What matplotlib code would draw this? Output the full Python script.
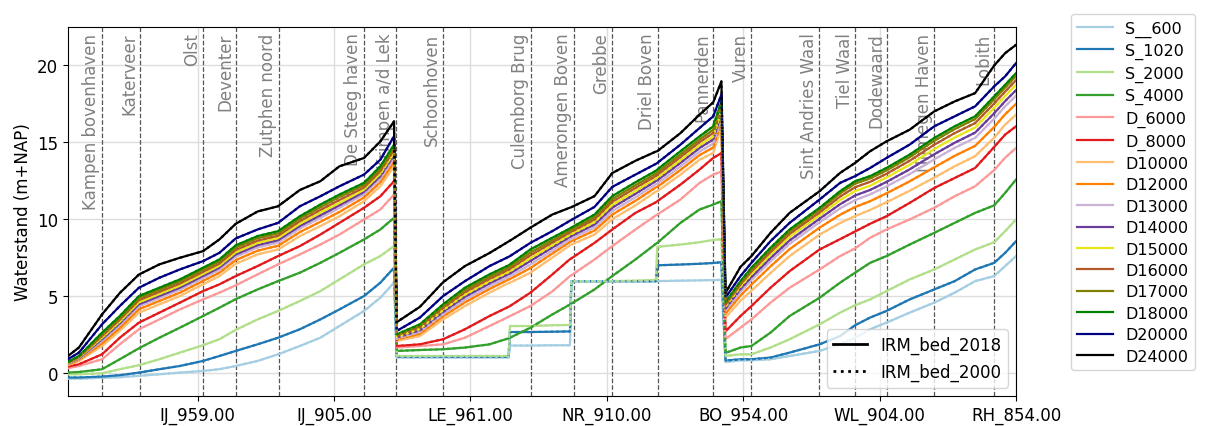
import matplotlib
matplotlib.use('Agg')
import matplotlib.pyplot as plt
from matplotlib.lines import Line2D

# x positions (point index along the river branches)
x_ij = [5, 13, 30, 43, 57, 72, 87, 104, 116, 128, 144, 159, 175, 190, 204, 222, 234, 244]
x_lek = [246, 263, 280, 296, 314, 328, 329, 344, 360, 373, 374, 391, 404, 421, 436, 437, 454, 468, 478, 484]
x_waal = [487, 498, 506, 520, 534, 556, 571, 582, 593, 605, 622, 640, 655, 670, 684, 692, 700]

tick_pos = [100, 200, 300, 400, 500, 600, 700]
tick_labels = ['IJ_959.00', 'IJ_905.00', 'LE_961.00', 'NR_910.00', 'BO_954.00', 'WL_904.00', 'RH_854.00']

stations = ['Kampen bovenhaven', 'Katerveer', 'Olst', 'Deventer', 'Zutphen noord', 'De Steeg haven',
            'Krimpen a/d Lek', 'Schoonhoven', 'Culemborg Brug', 'Amerongen Boven', 'Grebbe', 'Driel Boven',
            'Pannerden', 'Vuren', 'Sint Andries Waal', 'Tiel Waal', 'Dodewaard', 'Nijmegen Haven', 'Lobith']
station_pos = [29.6, 57.5, 103.7, 127.9, 159.4, 221.8, 245.2, 279.7, 344.3, 375.8, 403.7, 437.4,
               477.8, 505.6, 555.5, 581.9, 605.4, 639.9, 684.0]

# waterstand per afvoerscenario (IJ | LE/NR/BO | WL/RH)
S__600 = [-0.37, -0.37, -0.32, -0.28, -0.19, -0.09, 0.02, 0.13, 0.24, 0.45, 0.78, 1.21, 1.75, 2.29, 3.05, 4.03, 4.89, 5.87,
          1.0, 1.0, 1.0, 1.0, 1.0, 1.0, 1.78, 1.78, 1.8, 1.8, 5.95, 5.95, 5.95, 5.95, 5.95, 5.97, 6.0, 6.02, 6.04, 6.05,
          0.7, 0.82, 0.82, 0.89, 1.1, 1.43, 1.86, 2.29, 2.84, 3.27, 3.92, 4.57, 5.22, 5.97, 6.3, 6.95, 7.6]
S_1020 = [-0.3, -0.3, -0.24, -0.15, 0.02, 0.24, 0.45, 0.78, 1.1, 1.43, 1.86, 2.29, 2.84, 3.48, 4.13, 5.0, 5.87, 6.84,
          1.05, 1.05, 1.05, 1.05, 1.05, 1.05, 2.66, 2.66, 2.68, 2.7, 5.97, 5.97, 5.97, 5.97, 5.97, 7.0, 7.05, 7.1, 7.15, 7.2,
          0.8, 0.89, 0.89, 1.0, 1.32, 1.86, 2.4, 3.1, 3.6, 4.03, 4.78, 5.43, 5.97, 6.73, 7.16, 7.81, 8.57]
S_2000 = [-0.09, -0.09, -0.02, 0.24, 0.5, 0.89, 1.32, 1.8, 2.19, 2.8, 3.48, 4.03, 4.68, 5.32, 6.08, 7.06, 7.6, 8.25,
          1.1, 1.1, 1.1, 1.1, 1.1, 1.1, 3.05, 3.05, 3.1, 3.12, 5.97, 5.97, 5.97, 6.0, 6.05, 8.2, 8.35, 8.5, 8.65, 8.7,
          1.1, 1.21, 1.21, 1.65, 2.19, 3.16, 3.92, 4.4, 4.78, 5.32, 6.08, 6.73, 7.38, 8.03, 8.5, 9.22, 9.98]
S_4000 = [0.02, 0.06, 0.24, 0.89, 1.6, 2.29, 2.94, 3.7, 4.24, 4.8, 5.43, 5.97, 6.52, 7.16, 7.81, 8.68, 9.33, 10.09,
          1.43, 1.49, 1.54, 1.65, 1.86, 2.25, 2.29, 2.94, 3.8, 4.45, 4.5, 5.43, 6.3, 7.38, 8.4, 8.46, 9.76, 10.63, 10.95, 11.17,
          1.3, 1.65, 1.75, 2.62, 3.7, 4.89, 5.87, 6.52, 7.16, 7.6, 8.35, 9.11, 9.76, 10.41, 10.9, 11.71, 12.58]
D_6000 = [0.3, 0.45, 0.89, 1.86, 2.84, 3.48, 4.13, 4.78, 5.22, 5.7, 6.41, 7.06, 7.71, 8.35, 9.0, 9.98, 10.63, 11.6,
          1.65, 1.75, 1.86, 2.29, 3.05, 3.65, 3.7, 4.35, 5.3, 6.3, 6.35, 7.38, 8.25, 9.33, 10.25, 10.3, 11.28, 12.36, 12.9, 13.1,
          2.2, 2.94, 3.48, 4.57, 5.54, 6.73, 7.6, 8.1, 8.79, 9.33, 9.98, 10.74, 11.49, 12.14, 13.2, 14.0, 14.63]
D_8000 = [0.41, 0.56, 1.21, 2.29, 3.27, 3.92, 4.57, 5.32, 5.76, 6.3, 6.95, 7.6, 8.25, 9.0, 9.76, 10.74, 11.49, 12.47,
          1.75, 1.86, 2.19, 2.84, 3.7, 4.3, 4.35, 5.22, 6.4, 7.4, 7.45, 8.46, 9.33, 10.41, 11.1, 11.17, 12.25, 13.23, 13.98, 14.3,
          2.7, 3.7, 4.35, 5.54, 6.62, 8.03, 8.7, 9.2, 9.7, 10.19, 11.06, 12.03, 12.68, 13.33, 14.7, 15.5, 16.04]
D10000 = [0.5, 0.78, 1.75, 2.73, 3.92, 4.46, 5.0, 5.76, 6.3, 7.1, 7.71, 8.03, 8.9, 9.55, 10.19, 11.17, 12.14, 13.44,
          2.08, 2.4, 3.48, 4.35, 5.22, 5.85, 5.87, 6.52, 7.5, 8.3, 8.35, 9.0, 10.0, 10.9, 11.8, 11.82, 12.9, 13.87, 14.31, 16.0,
          3.6, 4.7, 5.35, 6.5, 7.6, 9.0, 9.75, 10.2, 10.6, 11.1, 11.85, 12.7, 13.44, 14.1, 15.3, 16.15, 16.8]
D12000 = [0.54, 0.84, 1.92, 2.92, 4.14, 4.68, 5.22, 5.98, 6.52, 7.34, 7.95, 8.27, 9.16, 9.83, 10.47, 11.41, 12.4, 13.72,
          2.17, 2.55, 3.68, 4.59, 5.46, 6.08, 6.11, 6.82, 7.76, 8.52, 8.57, 9.26, 10.3, 11.2, 12.07, 12.1, 13.2, 14.17, 14.66, 16.33,
          3.86, 5.03, 5.74, 6.93, 8.05, 9.45, 10.29, 10.79, 11.17, 11.68, 12.46, 13.37, 14.12, 14.77, 16.0, 16.82, 17.5]
D13000 = [0.58, 0.90, 2.08, 3.10, 4.33, 4.87, 5.41, 6.17, 6.71, 7.56, 8.16, 8.48, 9.39, 10.08, 10.73, 11.62, 12.63, 13.98,
          2.23, 2.67, 3.82, 4.77, 5.64, 6.25, 6.29, 7.05, 7.95, 8.69, 8.74, 9.46, 10.53, 11.43, 12.27, 12.31, 13.43, 14.4, 14.92, 16.58,
          4.06, 5.28, 6.04, 7.25, 8.40, 9.80, 10.70, 11.24, 11.61, 12.13, 12.93, 13.89, 14.64, 15.29, 16.54, 17.34, 18.04]
D14000 = [0.61, 0.94, 2.19, 3.22, 4.46, 5.0, 5.54, 6.3, 6.84, 7.7, 8.31, 8.63, 9.55, 10.25, 10.9, 11.77, 12.79, 14.15,
          2.30, 2.78, 3.97, 4.95, 5.82, 6.43, 6.47, 7.28, 8.15, 8.85, 8.9, 9.65, 10.75, 11.65, 12.48, 12.53, 13.66, 14.63, 15.18, 16.83,
          4.19, 5.45, 6.23, 7.47, 8.62, 10.03, 10.97, 11.54, 11.9, 12.42, 13.24, 14.22, 14.97, 15.63, 16.89, 17.68, 18.39]
D15000 = [0.63, 0.98, 2.29, 3.33, 4.59, 5.13, 5.67, 6.43, 6.97, 7.84, 8.45, 8.77, 9.7, 10.42, 11.06, 11.91, 12.95, 14.31,
          2.35, 2.87, 4.09, 5.09, 5.96, 6.56, 6.61, 7.46, 8.3, 8.98, 9.03, 9.81, 10.93, 11.83, 12.64, 12.69, 13.84, 14.81, 15.38, 17.03,
          4.32, 5.61, 6.42, 7.68, 8.85, 10.25, 11.24, 11.83, 12.18, 12.71, 13.54, 14.56, 15.31, 15.96, 17.24, 18.01, 18.74]
D16000 = [0.66, 1.02, 2.40, 3.46, 4.73, 5.27, 5.81, 6.57, 7.11, 8.0, 8.60, 8.92, 9.87, 10.6, 11.25, 12.06, 13.12, 14.5,
          2.40, 2.97, 4.22, 5.24, 6.11, 6.71, 6.76, 7.65, 8.47, 9.13, 9.18, 9.98, 11.13, 12.03, 12.81, 12.88, 14.04, 15.01, 15.61, 17.25,
          4.43, 5.75, 6.59, 7.86, 9.04, 10.44, 11.47, 12.08, 12.43, 12.95, 13.8, 14.84, 15.6, 16.25, 17.53, 18.3, 19.04]
D17000 = [0.68, 1.06, 2.52, 3.58, 4.87, 5.41, 5.95, 6.71, 7.25, 8.16, 8.76, 9.08, 10.04, 10.78, 11.44, 12.22, 13.28, 14.65,
          2.45, 3.06, 4.33, 5.39, 6.26, 6.85, 6.91, 7.83, 8.62, 9.26, 9.31, 10.13, 11.31, 12.21, 12.97, 13.05, 14.22, 15.19, 15.82, 17.44,
          4.53, 5.88, 6.74, 8.03, 9.21, 10.62, 11.68, 12.31, 12.65, 13.17, 14.03, 15.1, 15.86, 16.51, 17.8, 18.56, 19.31]
D18000 = [0.71, 1.1, 2.62, 3.7, 5.0, 5.54, 6.08, 6.84, 7.38, 8.3, 8.9, 9.22, 10.19, 10.95, 11.6, 12.36, 13.44, 14.85,
          2.51, 3.16, 4.46, 5.54, 6.41, 7.0, 7.06, 8.03, 8.79, 9.4, 9.45, 10.3, 11.5, 12.4, 13.15, 13.23, 14.42, 15.39, 16.04, 17.66,
          4.6, 5.97, 6.84, 8.14, 9.33, 10.74, 11.82, 12.47, 12.8, 13.33, 14.2, 15.28, 16.04, 16.69, 17.99, 18.74, 19.5]
D20000 = [0.89, 1.32, 3.16, 4.35, 5.54, 6.19, 6.73, 7.27, 7.81, 8.75, 9.33, 9.76, 10.84, 11.49, 12.14, 12.9, 13.87, 15.39,
          2.73, 3.6, 5.0, 5.97, 6.95, 7.55, 7.6, 8.46, 9.22, 9.9, 9.95, 10.8, 12.1, 12.9, 13.6, 13.66, 14.85, 15.93, 16.69, 18.1,
          4.9, 6.3, 7.16, 8.57, 9.76, 11.28, 12.36, 12.8, 13.33, 13.98, 14.85, 16.04, 16.69, 17.34, 18.64, 19.29, 20.15]
D24000 = [1.10, 1.65, 3.81, 5.2, 6.4, 7.06, 7.49, 7.92, 8.68, 9.7, 10.5, 10.84, 11.9, 12.47, 13.44, 13.98, 15.06, 16.36,
          3.3, 4.3, 5.9, 6.95, 7.8, 8.55, 8.6, 9.45, 10.3, 10.75, 10.78, 11.5, 13.0, 13.8, 14.4, 14.42, 15.6, 16.8, 17.6, 18.96,
          5.2, 6.9, 7.6, 9.11, 10.41, 11.82, 13.01, 13.66, 14.42, 15.06, 15.82, 17.01, 17.66, 18.2, 20.0, 20.8, 21.34]

names = ['S__600', 'S_1020', 'S_2000', 'S_4000', 'D_6000', 'D_8000', 'D10000', 'D12000',
         'D13000', 'D14000', 'D15000', 'D16000', 'D17000', 'D18000', 'D20000', 'D24000']
series = [S__600, S_1020, S_2000, S_4000, D_6000, D_8000, D10000, D12000,
          D13000, D14000, D15000, D16000, D17000, D18000, D20000, D24000]
colors = ['#a6cee3', '#1f78b4', '#b2df8a', '#33a02c', '#fb9a99', '#e31a1c', '#fdbf6f', '#ff7f00',
          '#cab2d6', '#6a3d9a', '#e6e619', '#b15928', '#808000', '#008000', '#000080', '#000000']

x = x_ij + x_lek + x_waal

fig = plt.figure(figsize=(12.05, 4.27), dpi=100)
ax = fig.add_axes([0.0564, 0.0703, 0.7868, 0.8641])

handles = []
for name, vals, c in zip(names, series, colors):
    l, = ax.plot(x, vals, color=c, lw=1.6, label=name, zorder=3)
    handles.append(l)
# bodem 2000 (valt grotendeels samen met 2018)
for vals, c in zip(series, colors):
    ax.plot(x, vals, color=c, lw=1.6, ls=':', zorder=4)

for name, pos in zip(stations, station_pos):
    ax.axvline(pos, color='#555555', ls='--', lw=0.9, zorder=2)
    ax.text(pos - 1, 0.985, name, transform=ax.get_xaxis_transform(), rotation=90,
            ha='right', va='top', fontsize=12, color='gray', zorder=1)

ax.set_xlim(5, 700)
ax.set_ylim(-1.5, 22.5)
ax.set_xticks(tick_pos)
ax.set_xticklabels(tick_labels, fontsize=12)
ax.set_yticks([0, 5, 10, 15, 20])
ax.tick_params(axis='y', labelsize=12)
ax.grid(True, color='#dddddd', lw=1)
ax.set_axisbelow(True)
ax.set_ylabel('Waterstand (m+NAP)', fontsize=12)

leg1 = ax.legend(handles=handles, loc='upper left', bbox_to_anchor=(1.058, 1.035),
                 borderaxespad=0, fontsize=11.5, labelspacing=0.4, handlelength=2.2)
ax.add_artist(leg1)
bed_handles = [Line2D([], [], color='k', lw=2, ls='-'), Line2D([], [], color='k', lw=2, ls=':')]
ax.legend(bed_handles, ['IRM_bed_2018', 'IRM_bed_2000'], loc='lower right', fontsize=12)

fig.savefig('out.png', dpi=100)
